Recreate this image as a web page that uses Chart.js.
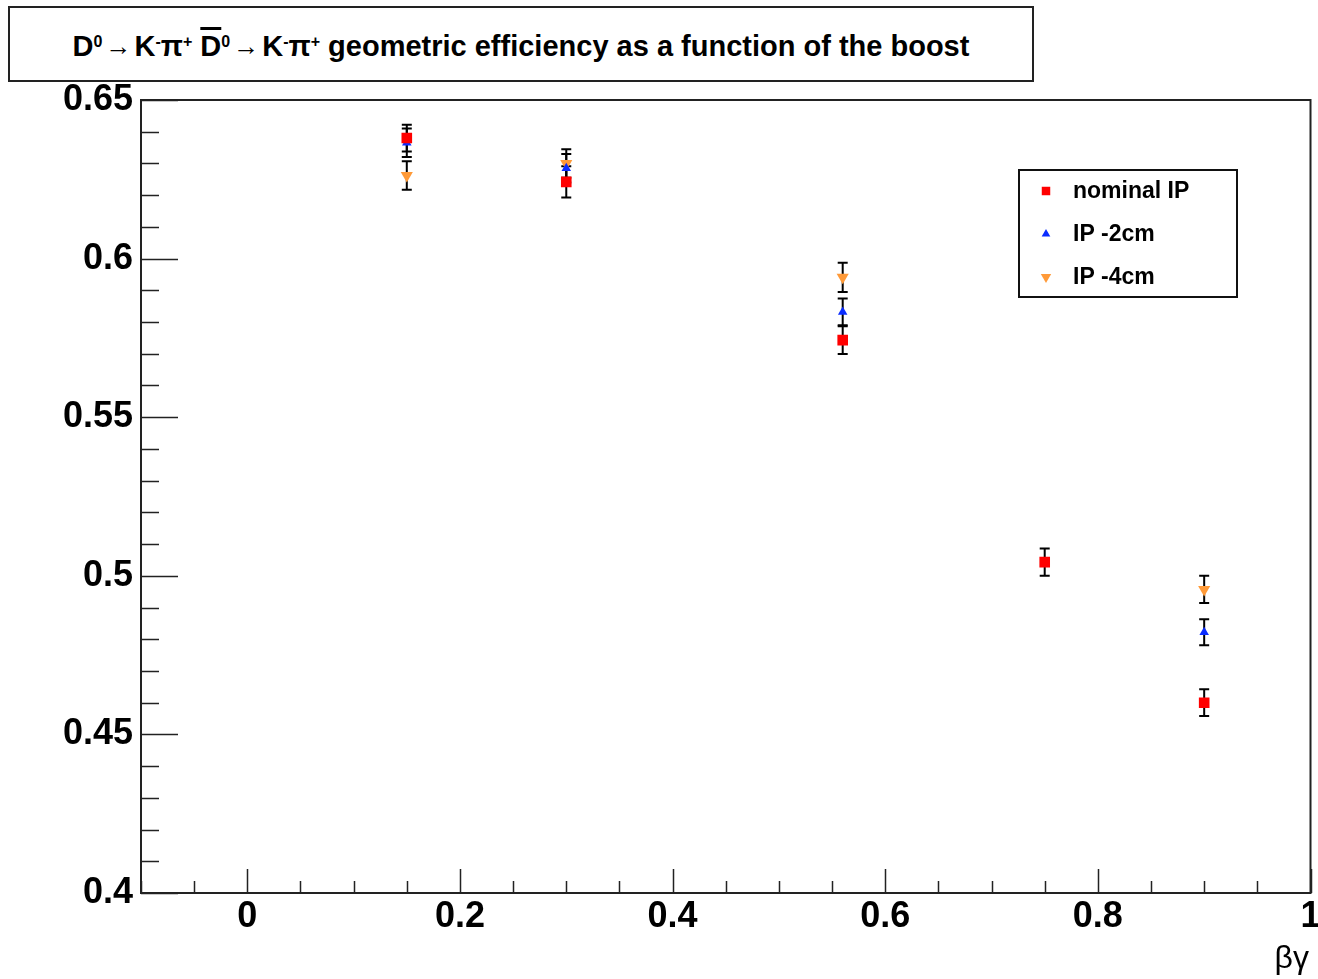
<!DOCTYPE html>
<html>
<head>
<meta charset="utf-8">
<script src="https://cdn.jsdelivr.net/npm/chart.js@4.4.0/dist/chart.umd.min.js"></script>
<style>
html, body { margin: 0; padding: 0; background: #fff; }
#wrap { position: relative; width: 1318px; height: 979px; }
#chart { position: absolute; left: 0; top: 0; }
#title {
    position: absolute; left: 8px; top: 6px; width: 1022px; height: 72px;
    border: 2px solid #222; background: #fff;
    font: bold 29px "Liberation Sans", Arial, sans-serif; color: #000;
    display: flex; align-items: center; justify-content: center; white-space: nowrap;
    padding-top: 4px; box-sizing: border-box; width: 1026px; height: 76px;
}
#title sup { font-size: 16px; position: relative; top: -4px; }
#title .arr { font-weight: normal; font-size: 26px; margin: 0 3px; }
#title .ov { text-decoration: overline; text-decoration-thickness: 3px; }
</style>
</head>
<body>
<div id="wrap">
    <canvas id="chart" width="1318" height="979"></canvas>
    <div id="title">D<sup>0</sup><span class="arr">&rarr;</span>K<sup>-</sup>&pi;<sup>+</sup>&nbsp;<span class="ov">D</span><sup>0</sup><span class="arr">&rarr;</span>K<sup>-</sup>&pi;<sup>+</sup>&nbsp;geometric efficiency as a function of the boost</div>
</div>
<script>
// beta*gamma values
const xVals = [0.15, 0.30, 0.56, 0.75, 0.90];

// efficiencies and errors per IP position
const nominalY = [0.6380, 0.6242, 0.5743, 0.5043, 0.4600];
const nominalErr = [0.0042, 0.0049, 0.0044, 0.0043, 0.0042];
const ip2Y = [0.6365, 0.6285, 0.5832, null, 0.4822];
const ip2Err = [0.0045, 0.0045, 0.0042, null, 0.0041];
const ip4Y = [0.6262, 0.6300, 0.5941, null, 0.4957];
const ip4Err = [0.0045, 0.0045, 0.0046, null, 0.0043];

const seriesNames = ['nominal IP', 'IP -2cm', 'IP -4cm'];

// axis ticks
const xTicks = [0, 0.2, 0.4, 0.6, 0.8, 1];
const yTicks = [0.4, 0.45, 0.5, 0.55, 0.6, 0.65];
const xMinorStep = 0.05;
const yMinorStep = 0.01;

const FONT = '"Liberation Sans", Arial, sans-serif';

function pts(ys) {
    return xVals.map((x, i) => ({ x: x, y: ys[i] })).filter(p => p.y !== null);
}

// error bars drawn under the markers
const errorBars = {
    id: 'errorBars',
    beforeDatasetsDraw(chart) {
        const ctx = chart.ctx;
        const xs = chart.scales.x, ys = chart.scales.y;
        ctx.save();
        ctx.strokeStyle = '#000';
        ctx.lineWidth = 2;
        chart.data.datasets.forEach(ds => {
            const errs = ds.errors.filter(v => v !== null);
            ds.data.forEach((p, i) => {
                const e = errs[i];
                const px = xs.getPixelForValue(p.x);
                const top = ys.getPixelForValue(p.y + e);
                const bot = ys.getPixelForValue(p.y - e);
                ctx.beginPath();
                ctx.moveTo(px, top); ctx.lineTo(px, bot);
                ctx.moveTo(px - 5, top); ctx.lineTo(px + 5, top);
                ctx.moveTo(px - 5, bot); ctx.lineTo(px + 5, bot);
                ctx.stroke();
            });
        });
        ctx.restore();
    }
};

// frame, inward ticks, legend, axis title
const decor = {
    id: 'decor',
    afterDraw(chart) {
        const ctx = chart.ctx;
        const a = chart.chartArea;
        const xs = chart.scales.x, ys = chart.scales.y;
        ctx.save();
        ctx.strokeStyle = '#222';
        ctx.lineWidth = 2;
        ctx.strokeRect(a.left, a.top, a.right - a.left, a.bottom - a.top);

        ctx.lineWidth = 1.5;
        ctx.beginPath();
        for (let v = ys.min; v <= ys.max + 1e-9; v += yMinorStep) {
            const major = yTicks.some(t => Math.abs(t - v) < 1e-6);
            const py = Math.round(ys.getPixelForValue(v)) + 0.5;
            ctx.moveTo(a.left, py);
            ctx.lineTo(a.left + (major ? 37 : 18), py);
        }
        for (let v = xs.min; v <= xs.max + 1e-9; v += xMinorStep) {
            const major = xTicks.some(t => Math.abs(t - v) < 1e-6);
            const px = Math.round(xs.getPixelForValue(v)) + 0.5;
            ctx.moveTo(px, a.bottom);
            ctx.lineTo(px, a.bottom - (major ? 24 : 12));
        }
        ctx.stroke();

        // legend box
        ctx.fillStyle = '#fff';
        ctx.fillRect(1019, 170, 218, 127);
        ctx.lineWidth = 2;
        ctx.strokeStyle = '#111';
        ctx.strokeRect(1019, 170, 218, 127);
        const rows = [191, 234, 277];
        chart.data.datasets.forEach((ds, i) => {
            ctx.fillStyle = ds.backgroundColor;
            ctx.strokeStyle = ds.backgroundColor;
            Chart.helpers.drawPoint(ctx, {
                pointStyle: ds.pointStyle,
                radius: ds.legendRadius,
                rotation: ds.rotation || 0,
                borderWidth: 0
            }, 1046, rows[i]);
            ctx.fillStyle = '#000';
            ctx.font = 'bold 23px ' + FONT;
            ctx.textBaseline = 'middle';
            ctx.textAlign = 'left';
            ctx.fillText(ds.label, 1073, rows[i] + 1);
        });

        // x axis title
        ctx.fillStyle = '#000';
        ctx.font = '32px ' + FONT;
        ctx.textAlign = 'right';
        ctx.textBaseline = 'alphabetic';
        ctx.fillText('\u03b2\u03b3', 1309, 968);
        ctx.restore();
    }
};

new Chart(document.getElementById('chart'), {
    type: 'scatter',
    data: {
        datasets: [
            {
                label: seriesNames[0], data: pts(nominalY), errors: nominalErr,
                pointStyle: 'rect', pointRadius: 7.5, legendRadius: 6,
                backgroundColor: '#ff0000', borderColor: '#ff0000', borderWidth: 0
            },
            {
                label: seriesNames[1], data: pts(ip2Y), errors: ip2Err,
                pointStyle: 'triangle', pointRadius: 5.5, legendRadius: 5,
                backgroundColor: '#0a2cff', borderColor: '#0a2cff', borderWidth: 0
            },
            {
                label: seriesNames[2], data: pts(ip4Y), errors: ip4Err,
                pointStyle: 'triangle', rotation: 180, pointRotation: 180,
                pointRadius: 7, legendRadius: 6,
                backgroundColor: '#ff9a38', borderColor: '#ff9a38', borderWidth: 0
            }
        ]
    },
    options: {
        responsive: false,
        animation: false,
        devicePixelRatio: 1,
        layout: { padding: { top: 100, right: 7, bottom: 0, left: 0 } },
        plugins: {
            legend: { display: false },
            title: { display: false },
            tooltip: { enabled: false }
        },
        scales: {
            x: {
                type: 'linear', min: -0.1, max: 1,
                grid: { display: false },
                border: { display: false },
                afterFit(s) { s.height = 86; s.paddingRight = 0; s.paddingLeft = 0; },
                afterBuildTicks(s) { s.ticks = xTicks.map(v => ({ value: v })); },
                ticks: {
                    padding: -6, color: '#000',
                    font: { family: FONT, weight: 'bold', size: 36 },
                    callback: v => String(+v.toFixed(2))
                }
            },
            y: {
                type: 'linear', min: 0.4, max: 0.65,
                grid: { display: false },
                border: { display: false },
                afterFit(s) { s.width = 141; s.paddingTop = 0; s.paddingBottom = 0; },
                afterBuildTicks(s) { s.ticks = yTicks.map(v => ({ value: v })); },
                ticks: {
                    padding: 0, color: '#000',
                    font: { family: FONT, weight: 'bold', size: 36 },
                    callback: v => String(+v.toFixed(2))
                }
            }
        }
    },
    plugins: [errorBars, decor]
});
</script>
</body>
</html>
